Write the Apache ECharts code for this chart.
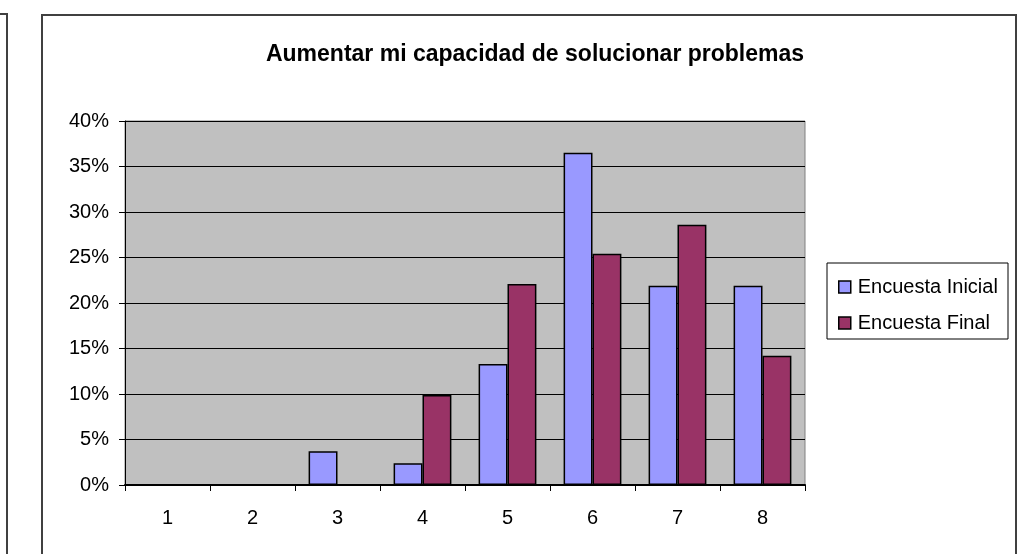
<!DOCTYPE html>
<html>
<head>
<meta charset="utf-8">
<script src="https://cdn.jsdelivr.net/npm/echarts@6/dist/echarts.min.js"></script>
<style>
html, body { margin: 0; padding: 0; background: #fff; }
#chart { width: 1026px; height: 554px; }
</style>
</head>
<body>
<div id="chart"></div>
<script>
// datos
var categorias = ['1', '2', '3', '4', '5', '6', '7', '8'];
var encuestaInicial = [0, 0, 3.7, 2.4, 13.3, 36.5, 21.9, 21.9];
var encuestaFinal = [0, 0, 0, 9.9, 22.1, 25.4, 28.6, 14.2];
var titulo = 'Aumentar mi capacidad de solucionar problemas';

var Chart = echarts.init(document.getElementById('chart'));

var option = {
	animation: false,
	backgroundColor: '#fff',
	textStyle: { fontFamily: 'Liberation Sans, Arial, sans-serif' },
	title: {
		text: titulo,
		left: 530,
		top: 38,
		textAlign: 'center',
		textStyle: { fontSize: 23, fontWeight: 'bold', color: '#000' }
	},
	graphic: [
		// marco del grafico
		{ type: 'rect', shape: { x: 42, y: 15, width: 974, height: 560 }, style: { fill: null, stroke: '#404040', lineWidth: 2 }, z: 100 },
		// borde del grafico vecino a la izquierda
		{ type: 'polyline', shape: { points: [[0, 14], [7, 14], [7, 560]] }, style: { fill: null, stroke: '#404040', lineWidth: 2 }, z: 100 },
		// caja de leyenda
		{ type: 'rect', shape: { x: 827, y: 263, width: 181, height: 76 }, style: { fill: '#fff', stroke: '#000', lineWidth: 1 }, z: 1 }
	],
	legend: {
		orient: 'vertical',
		left: 833,
		top: 272,
		itemWidth: 12,
		itemHeight: 12,
		itemGap: 16,
		icon: 'rect',
		textStyle: { fontSize: 20, color: '#000', padding: [0, 0, 0, 2] },
		data: [
			{ name: 'Encuesta Inicial', itemStyle: { borderColor: '#000', borderWidth: 1.5 } },
			{ name: 'Encuesta Final', itemStyle: { borderColor: '#000', borderWidth: 1.5 } }
		]
	},
	grid: {
		left: 125,
		top: 121,
		right: 221,
		bottom: 69,
		show: true,
		backgroundColor: '#c0c0c0',
		borderColor: '#808080',
		borderWidth: 1
	},
	xAxis: {
		type: 'category',
		data: categorias,
		axisLine: { lineStyle: { color: '#000', width: 2 } },
		axisTick: { show: true, inside: false, length: 6, alignWithLabel: false, lineStyle: { color: '#000' } },
		axisLabel: { fontSize: 20, color: '#000', margin: 23 }
	},
	yAxis: {
		type: 'value',
		min: 0,
		max: 40,
		interval: 5,
		axisLine: { show: true, lineStyle: { color: '#000', width: 1 } },
		axisTick: { show: true, length: 6, lineStyle: { color: '#000' } },
		axisLabel: { fontSize: 20, color: '#000', margin: 16, formatter: '{value}%' },
		splitLine: { lineStyle: { color: '#000', width: 1 } }
	},
	series: [
		{
			name: 'Encuesta Inicial',
			type: 'bar',
			data: encuestaInicial,
			barGap: '0%',
			barCategoryGap: '32%',
			itemStyle: { color: '#9999ff', borderColor: '#000', borderWidth: 1.5 }
		},
		{
			name: 'Encuesta Final',
			type: 'bar',
			data: encuestaFinal,
			barGap: '0%',
			barCategoryGap: '32%',
			itemStyle: { color: '#993366', borderColor: '#000', borderWidth: 1.5 }
		}
	]
};
Chart.setOption(option);
</script>
</body>
</html>
